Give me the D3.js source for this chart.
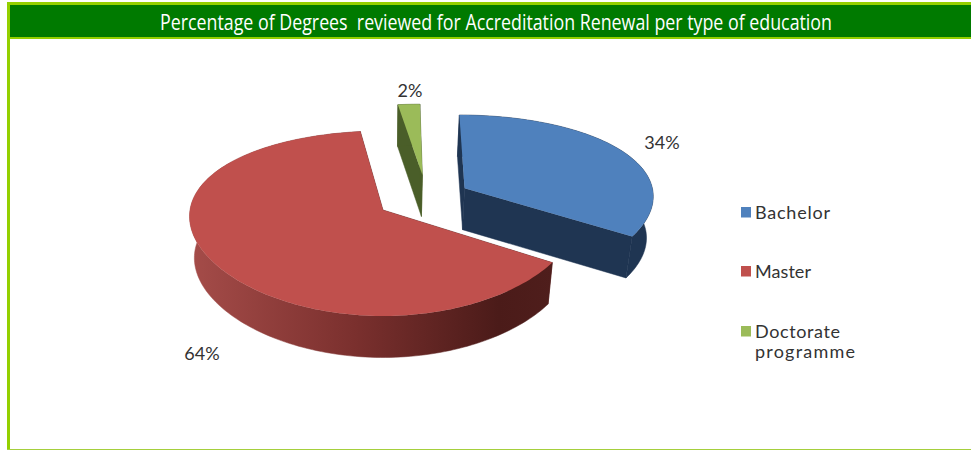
<!DOCTYPE html>
<html>
<head>
<meta charset="utf-8">
<script src="https://cdn.jsdelivr.net/npm/d3@7"></script>
<style>
  html, body { margin: 0; padding: 0; background: #fff; }
  svg { display: block; }
  text { white-space: pre; }
</style>
</head>
<body>
<div id="chart"></div>
<script>
// ============================================
// DATA
// ============================================
const categories = ["Bachelor", "Master", "Doctorate programme"];
const values = [34, 64, 2];
const percentLabels = ["34%", "64%", "2%"];

// ============================================
// LAYOUT & STYLE
// ============================================
const WIDTH = 971;
const HEIGHT = 450;
const TITLE = "Percentage of Degrees  reviewed for Accreditation Renewal per type of education";

const CENTER = { x: 383, y: 210 };
const RADIUS_X = 193;
const RADIUS_Y = 90.5;
const DEPTH = 41.5;
const BOTTOM_SHRINK = 0.975; // bottom rim sits a bit further from the viewer
const PERSPECTIVE_X = 0.07;
const PERSPECTIVE_Y = 0.146;

// how far each slice is pulled out of the pie, in pie radii
const sliceOffsets = [
  { u: 0.43, v: -0.25 },
  { u: 0, v: 0 },
  { u: 0.21, v: -0.41 },
];
const sliceScales = [0.99, 1, 1];
const topColors = ["#4f81bd", "#c0504d", "#9bbb59"];
const sideColors = ["#1f3552", "#5c2220", "#4a5e29"];
const labelSpots = [
  { x: 662, y: 149 },
  { x: 202, y: 360 },
  { x: 410, y: 97 },
];
const legendRows = [
  { y: 219, lines: ["Bachelor"], lengths: [75] },
  { y: 278, lines: ["Master"], lengths: [56] },
  { y: 338, lines: ["Doctorate", "programme"], lengths: [85, 100] },
];
const LABEL_FONT = "Lato, 'Open Sans', sans-serif";

// ============================================
// PROJECTION
// ============================================
const xScale = d3.scaleLinear().domain([-1, 1]).range([CENTER.x - RADIUS_X, CENTER.x + RADIUS_X]);
const yScale = d3.scaleLinear().domain([-1, 1]).range([CENTER.y - RADIUS_Y, CENTER.y + RADIUS_Y]);

// flat pie coordinates -> tilted screen position of the top surface
function projectTop(u, v) {
  return [
    xScale(u / (1 - PERSPECTIVE_X * v)),
    yScale(v / (1 - PERSPECTIVE_Y * v)),
  ];
}

function toBottom(p) {
  return [CENTER.x + (p[0] - CENTER.x) * BOTTOM_SHRINK, p[1] + DEPTH];
}

function rimPoints(arc, offset, scale) {
  const steps = Math.ceil((arc.endAngle - arc.startAngle) * 40) + 1;
  const angle = d3.scaleLinear().domain([0, steps]).range([arc.startAngle, arc.endAngle]);
  return d3.range(steps + 1).map((i) =>
    projectTop(offset.u + scale * Math.sin(angle(i)), offset.v - scale * Math.cos(angle(i)))
  );
}

// ============================================
// DRAW
// ============================================
const svg = d3.select("#chart").append("svg").attr("width", WIDTH).attr("height", HEIGHT);
const line = d3.line();

const defs = svg.append("defs");
const rimGradient = defs.append("linearGradient")
  .attr("id", "masterRim")
  .attr("gradientUnits", "userSpaceOnUse")
  .attr("x1", 190).attr("x2", 553).attr("y1", 0).attr("y2", 0);
rimGradient.append("stop").attr("offset", "0%").attr("stop-color", "#a54c49");
rimGradient.append("stop").attr("offset", "45%").attr("stop-color", "#7b302e");
rimGradient.append("stop").attr("offset", "85%").attr("stop-color", "#4b1b19");
rimGradient.append("stop").attr("offset", "100%").attr("stop-color", "#4f1e1c");

// frame
svg.append("rect").attr("x", 7).attr("y", 2).attr("width", WIDTH - 7).attr("height", 37).attr("fill", "#94d000");
svg.append("rect").attr("x", 7).attr("y", 2).attr("width", 3).attr("height", HEIGHT - 2).attr("fill", "#94d000");
svg.append("rect").attr("x", 7).attr("y", 449).attr("width", WIDTH - 7).attr("height", 1).attr("fill", "#a5cf3c");
svg.append("rect").attr("x", 10).attr("y", 5).attr("width", WIDTH - 10).attr("height", 32).attr("fill", "#007a00");

svg.append("text")
  .attr("x", 496)
  .attr("y", 29.5)
  .attr("text-anchor", "middle")
  .attr("font-family", "'Open Sans', 'Noto Sans', sans-serif")
  .attr("font-size", 21.5)
  .attr("textLength", 672)
  .attr("lengthAdjust", "spacingAndGlyphs")
  .attr("fill", "#ffffff")
  .text(TITLE);

// slices
const arcs = d3.pie().sort(null).startAngle(0).endAngle(2 * Math.PI)(values);

arcs.forEach((arc, i) => {
  const offset = sliceOffsets[i];
  const rim = rimPoints(arc, offset, sliceScales[i]);
  const apex = projectTop(offset.u, offset.v);
  const g = svg.append("g").attr("class", "slice");

  // straight cut faces
  [rim[0], rim[rim.length - 1]].forEach((edge) => {
    g.append("path")
      .attr("d", line([apex, edge, toBottom(edge), toBottom(apex)]) + "Z")
      .attr("fill", sideColors[i])
      .attr("stroke", sideColors[i])
      .attr("stroke-width", 0.5);
  });

  // curved outer wall
  g.append("path")
    .attr("d", line(rim.concat(rim.map(toBottom).reverse())) + "Z")
    .attr("fill", i === 1 ? "url(#masterRim)" : sideColors[i])
    .attr("stroke", i === 1 ? "url(#masterRim)" : sideColors[i])
    .attr("stroke-width", 0.5);

  // top surface
  g.append("path")
    .attr("d", line([apex].concat(rim)) + "Z")
    .attr("fill", topColors[i]);

  g.append("text")
    .attr("x", labelSpots[i].x)
    .attr("y", labelSpots[i].y)
    .attr("text-anchor", "middle")
    .attr("font-family", LABEL_FONT)
    .attr("font-size", 18)
    .attr("fill", "#333333")
    .text(percentLabels[i]);
});

// legend
const legend = svg.append("g").attr("class", "legend");
categories.forEach((name, i) => {
  const row = legendRows[i];
  legend.append("rect")
    .attr("x", 741)
    .attr("y", row.y - 12)
    .attr("width", 10)
    .attr("height", 10.5)
    .attr("fill", topColors[i]);
  row.lines.forEach((text, k) => {
    legend.append("text")
      .attr("x", 755)
      .attr("y", row.y + k * 20)
      .attr("font-family", LABEL_FONT)
      .attr("font-size", 18)
      .attr("textLength", row.lengths[k])
      .attr("fill", "#333333")
      .text(text);
  });
});
</script>
</body>
</html>
